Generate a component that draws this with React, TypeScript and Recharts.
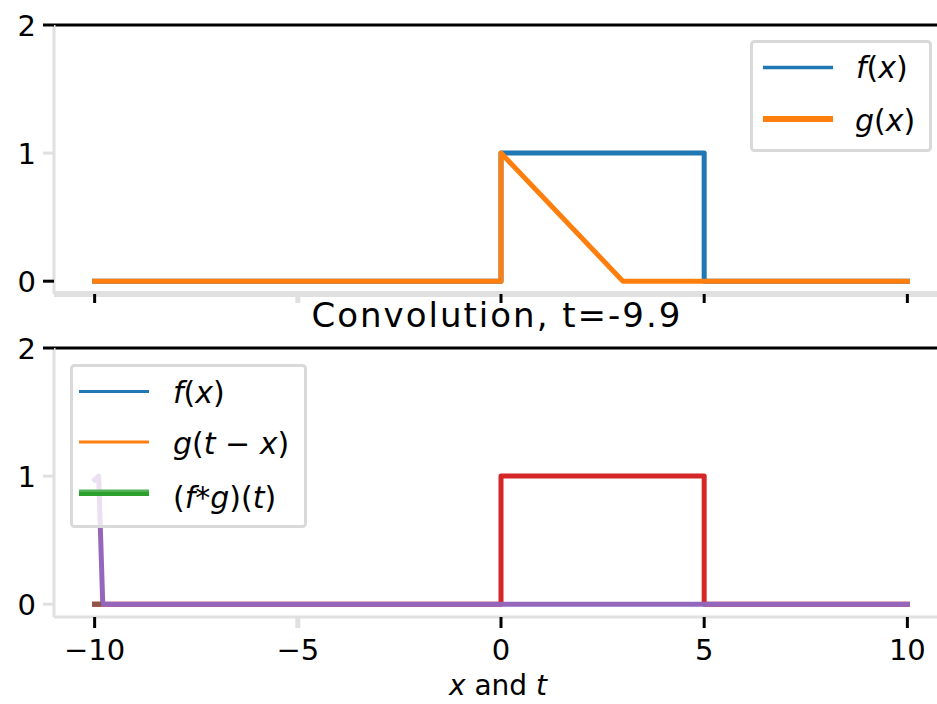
import React from 'react';
import { LineChart, Line, XAxis, YAxis, ReferenceLine } from 'recharts';

const xTicks = [-10, -5, 0, 5, 10];
const yTicks = [0, 1, 2];

// f(x): box on [0, 5]
const fX = [-10, 0, 0, 5, 5, 10];
const fY = [0, 0, 1, 1, 0, 0];
// g(x): ramp down from 1 at 0 to 0 at 3
const gX = [-10, 0, 0, 3, 10];
const gY = [0, 0, 1, 0, 0];
// g(t - x) at t = -9.9
const gShiftX = [-10, -9.9, -9.8, 10];
const gShiftY = [0.97, 1, 0, 0];
// (f*g)(t) computed so far
const convX = [-10, -9.9];
const convY = [0, 0];

const topLegend = ['f(x)', 'g(x)'];
const bottomLegend = ['f(x)', 'g(t − x)', '(f*g)(t)'];

const toPoints = (xs: number[], ys: number[]) => xs.map((x, i) => ({ x, y: ys[i] }));

const FONT = '"DejaVu Sans", sans-serif';
const GRAY = '#e0e0e0';
const C = {
  blue: '#1f77b4',
  orange: '#ff7f0e',
  green: '#2ca02c',
  red: '#d62728',
  purple: '#9467bd',
  brown: '#8c564b',
};

const fmt = (v: number) => (v < 0 ? '\u2212' + Math.abs(v) : String(v));

function XTick(props: any) {
  const { x, y, payload, showLabel, len } = props;
  const gray = payload.value === -5;
  return (
    <g>
      <line x1={x} x2={x} y1={y} y2={y + len} stroke={gray ? GRAY : '#000'} strokeWidth={gray ? 5 : 3} />
      {showLabel && (
        <text x={x} y={y + 43} textAnchor="middle" fontSize={29} fontFamily={FONT} fill="#000">
          {fmt(payload.value)}
        </text>
      )}
    </g>
  );
}

function YTick(props: any) {
  const { x, y, payload, grayTicks } = props;
  const gray = grayTicks.includes(payload.value);
  return (
    <g>
      <line x1={x - 11} x2={x} y1={y} y2={y} stroke={gray ? GRAY : '#000'} strokeWidth={3} />
      <text x={x - 18} y={y + 11} textAnchor="end" fontSize={29} fontFamily={FONT} fill="#000">
        {fmt(payload.value)}
      </text>
    </g>
  );
}

const lineProps = {
  dataKey: 'y',
  dot: false,
  activeDot: false,
  strokeWidth: 5,
  strokeLinecap: 'square' as const,
  strokeLinejoin: 'round' as const,
  isAnimationActive: false,
  type: 'linear' as const,
};

function MathText({ parts }: { parts: [string, boolean][] }) {
  return (
    <>
      {parts.map(([t, it], i) => (
        <tspan key={i} fontStyle={it ? 'italic' : 'normal'}>
          {t}
        </tspan>
      ))}
    </>
  );
}

const labelParts: Record<string, [string, boolean][]> = {
  'f(x)': [['f', true], ['(', false], ['x', true], [')', false]],
  'g(x)': [['g', true], ['(', false], ['x', true], [')', false]],
  'g(t − x)': [['g', true], ['(', false], ['t', true], [' \u2212 ', false], ['x', true], [')', false]],
  '(f*g)(t)': [['(', false], ['f', true], ['*', false], ['g', true], [')(', false], ['t', true], [')', false]],
};

export default function App() {
  return (
    <div
      style={{
        position: 'absolute',
        left: 0,
        top: 0,
        width: 937,
        height: 704,
        overflow: 'hidden',
        background: '#fff',
      }}
    >
      {/* top panel */}
      <div style={{ position: 'absolute', left: 0, top: 0 }}>
        <LineChart width={960} height={312} margin={{ top: 25, right: 12, left: 0, bottom: 0 }}>
          <XAxis
            dataKey="x"
            type="number"
            domain={[-11, 11]}
            ticks={xTicks}
            allowDataOverflow
            height={18}
            tickSize={0}
            tickMargin={0}
            axisLine={{ stroke: GRAY, strokeWidth: 6 }}
            tickLine={false}
            tick={(p: any) => <XTick {...p} showLabel={false} len={9} />}
          />
          <YAxis
            type="number"
            domain={[-0.1, 2]}
            ticks={yTicks}
            allowDataOverflow
            width={54}
            tickSize={0}
            tickMargin={0}
            axisLine={{ stroke: GRAY, strokeWidth: 3 }}
            tickLine={false}
            tick={(p: any) => <YTick {...p} grayTicks={[1]} />}
          />
          <ReferenceLine y={2} stroke="#000" strokeWidth={3} />
          <Line {...lineProps} data={toPoints(fX, fY)} stroke={C.blue} />
          <Line {...lineProps} data={toPoints(gX, gY)} stroke={C.orange} />
        </LineChart>
      </div>

      {/* bottom panel */}
      <div style={{ position: 'absolute', left: 0, top: 323 }}>
        <LineChart width={960} height={381} margin={{ top: 25, right: 12, left: 0, bottom: 0 }}>
          <XAxis
            dataKey="x"
            type="number"
            domain={[-11, 11]}
            ticks={xTicks}
            allowDataOverflow
            height={87}
            tickSize={0}
            tickMargin={0}
            axisLine={{ stroke: GRAY, strokeWidth: 3 }}
            tickLine={false}
            tick={(p: any) => <XTick {...p} showLabel len={11} />}
          />
          <YAxis
            type="number"
            domain={[-0.1, 2]}
            ticks={yTicks}
            allowDataOverflow
            width={54}
            tickSize={0}
            tickMargin={0}
            axisLine={{ stroke: GRAY, strokeWidth: 3 }}
            tickLine={false}
            tick={(p: any) => <YTick {...p} grayTicks={[0, 1]} />}
          />
          <ReferenceLine y={2} stroke="#000" strokeWidth={3} />
          <Line {...lineProps} data={toPoints(fX, fY)} stroke={C.red} />
          <Line {...lineProps} data={toPoints(gShiftX, gShiftY)} stroke={C.purple} />
          <Line {...lineProps} data={toPoints(convX, convY)} stroke={C.brown} />
        </LineChart>
      </div>

      {/* title, legends, x label */}
      <svg width={937} height={704} style={{ position: 'absolute', left: 0, top: 0, pointerEvents: 'none' }}>
        <text x={497} y={327} textAnchor="middle" fontSize={34} letterSpacing={2} fontFamily={FONT} fill="#000">
          Convolution, t=-9.9
        </text>

        <rect x={751.5} y={41.5} width={179} height={109} rx={3} fill="rgba(255,255,255,0.8)" stroke="#d9d9d9" strokeWidth={3} />
        <line x1={763} x2={833} y1={67.5} y2={67.5} stroke={C.blue} strokeWidth={3.5} />
        <line x1={763} x2={833} y1={119} y2={119} stroke={C.orange} strokeWidth={6} />
        <text x={856} y={78} fontSize={30} fontFamily={FONT} fill="#000">
          <MathText parts={labelParts[topLegend[0]]} />
        </text>
        <text x={855} y={131} fontSize={30} fontFamily={FONT} fill="#000">
          <MathText parts={labelParts[topLegend[1]]} />
        </text>

        <rect x={71.5} y={365.5} width={234} height={161} rx={3} fill="rgba(255,255,255,0.8)" stroke="#d9d9d9" strokeWidth={3} />
        <line x1={79} x2={149} y1={391.5} y2={391.5} stroke={C.blue} strokeWidth={3} />
        <line x1={79} x2={149} y1={442} y2={442} stroke={C.orange} strokeWidth={3} />
        <line x1={79} x2={149} y1={491} y2={491} stroke="#55b155" strokeWidth={3} />
        <line x1={79} x2={149} y1={494} y2={494} stroke={C.green} strokeWidth={4} />
        {bottomLegend.map((name, i) => (
          <text key={name} x={173} y={[403, 454, 508][i]} fontSize={30} fontFamily={FONT} fill="#000">
            <MathText parts={labelParts[name]} />
          </text>
        ))}

        <text x={498} y={695} textAnchor="middle" fontSize={28} fontFamily={FONT} fill="#000">
          <tspan fontStyle="italic">x</tspan>
          <tspan> and </tspan>
          <tspan fontStyle="italic">t</tspan>
        </text>
      </svg>
    </div>
  );
}
